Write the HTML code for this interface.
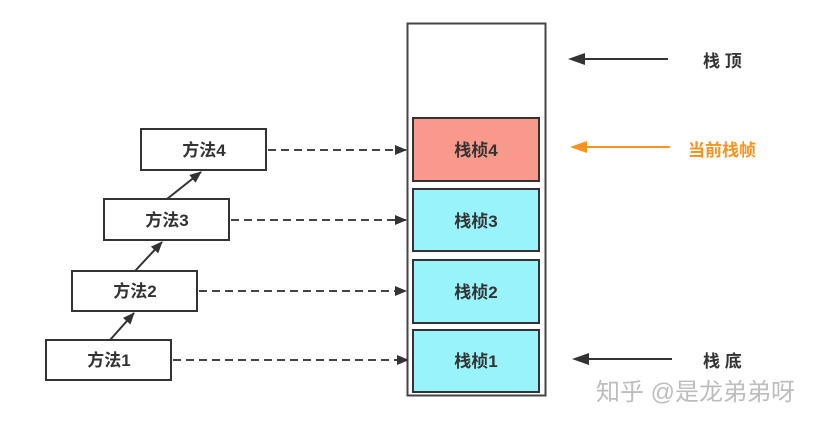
<!DOCTYPE html>
<html><head><meta charset="utf-8"><style>
body{margin:0;background:#fff;width:819px;height:424px;overflow:hidden}
svg text{font-family:"Liberation Sans","Noto Sans CJK SC",sans-serif;font-weight:bold}
</style></head><body>
<svg width="819" height="424" viewBox="0 0 819 424">
<defs>
<marker id="a" markerWidth="12" markerHeight="10" refX="11" refY="5" orient="auto" markerUnits="userSpaceOnUse"><path d="M0,0 L12,5 L0,10z" fill="#333"/></marker>
</defs>
<rect x="407.5" y="23.5" width="138" height="372" fill="#fff" stroke="#444" stroke-width="2"/>
<rect x="413" y="118" width="126" height="63" fill="#f9998c" stroke="#333" stroke-width="2"/>
<rect x="413" y="189" width="126" height="62" fill="#98f3fb" stroke="#333" stroke-width="2"/>
<rect x="413" y="260" width="126" height="63" fill="#98f3fb" stroke="#333" stroke-width="2"/>
<rect x="413" y="330" width="126" height="62" fill="#98f3fb" stroke="#333" stroke-width="2"/>
<g font-size="17" fill="#333" text-anchor="middle">
<text x="476" y="156">栈桢4</text><text x="476" y="227">栈桢3</text><text x="476" y="298">栈桢2</text><text x="476" y="367">栈桢1</text>
</g>
<g fill="#fff" stroke="#333" stroke-width="2">
<rect x="141" y="129" width="125" height="41"/><rect x="104" y="199" width="125" height="41"/>
<rect x="72" y="271" width="125" height="40"/><rect x="46" y="340" width="125" height="40"/>
</g>
<g font-size="17" fill="#333" text-anchor="middle">
<text x="204" y="156">方法4</text><text x="167" y="226">方法3</text><text x="135" y="297">方法2</text><text x="109" y="366">方法1</text>
</g>
<g stroke="#444" stroke-width="2" stroke-dasharray="8,5" marker-end="url(#a)">
<line x1="268" y1="150" x2="406" y2="150"/><line x1="231" y1="220" x2="406" y2="220"/>
<line x1="199" y1="291" x2="406" y2="291"/><line x1="173" y1="360" x2="408" y2="360"/>
</g>
<g stroke="#333" stroke-width="2" marker-end="url(#a)">
<line x1="110" y1="340" x2="134" y2="313"/><line x1="135" y1="271" x2="162" y2="242"/><line x1="167" y1="199" x2="201" y2="172"/>
</g>
<line x1="668" y1="59" x2="584" y2="59" stroke="#333" stroke-width="2"/>
<path d="M568,59 L585,53 L585,65z" fill="#333"/>
<line x1="670" y1="147" x2="586" y2="147" stroke="#f7931e" stroke-width="2"/>
<path d="M570,147 L587,141 L587,153z" fill="#f7931e"/>
<line x1="672" y1="359" x2="588" y2="359" stroke="#333" stroke-width="2"/>
<path d="M572,359 L589,353 L589,365z" fill="#333"/>
<text x="703" y="67" font-size="17" fill="#333">栈 顶</text>
<text x="688" y="156" font-size="17" fill="#f7931e">当前栈帧</text>
<text x="703" y="367" font-size="17" fill="#333">栈 底</text>
<text x="596" y="400" font-size="24" fill="#bdbdbd" style="font-weight:normal">知乎 @是龙弟弟呀</text>
</svg>
</body></html>
